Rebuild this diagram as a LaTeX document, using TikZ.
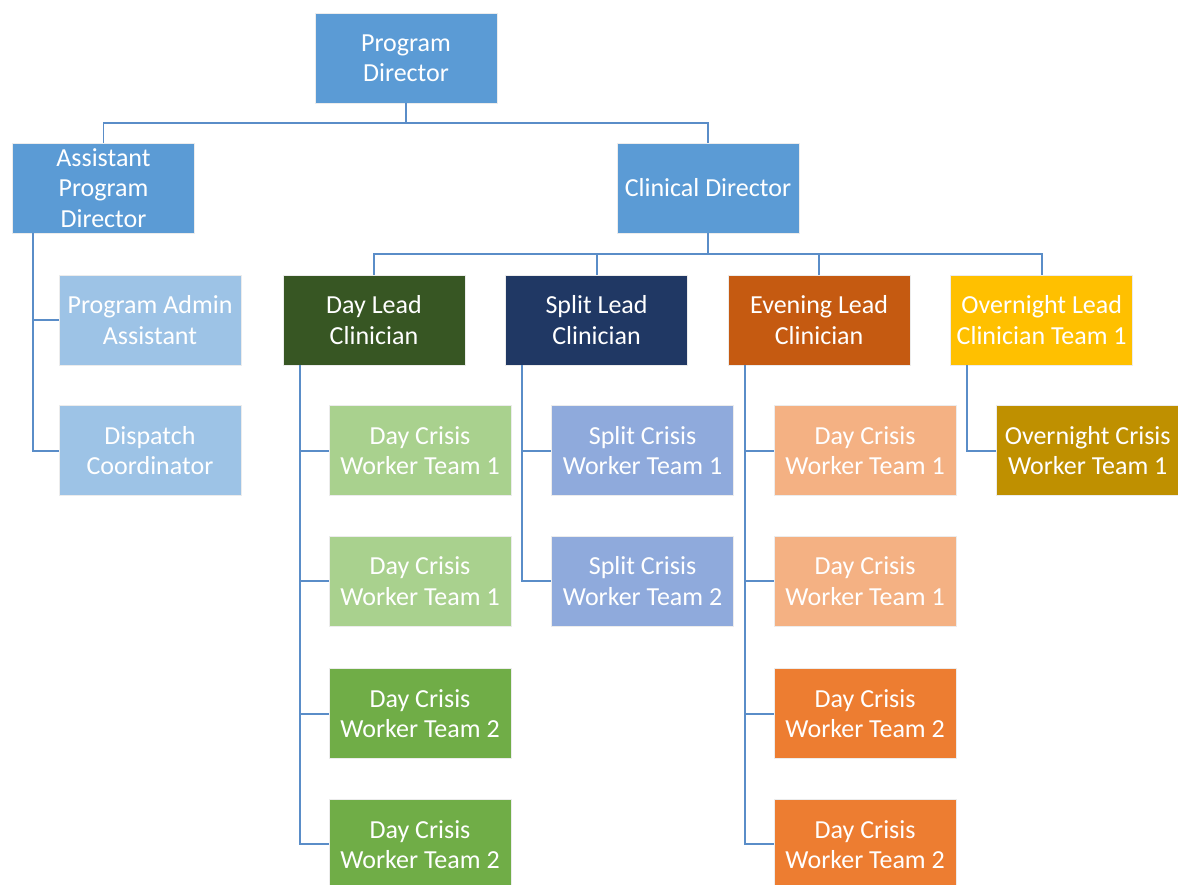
\documentclass[tikz,border=0pt]{standalone}
\usepackage{fontspec}
\setmainfont{Carlito}
\usepackage{xcolor}
\usetikzlibrary{positioning}
\definecolor{TopBlue}{HTML}{5B9BD5}
\definecolor{PaleBlue}{HTML}{9DC3E6}
\definecolor{LinkBlue}{HTML}{5A8DC8}
\definecolor{DayDark}{HTML}{375623}
\definecolor{DayPale}{HTML}{A9D18E}
\definecolor{DayMid}{HTML}{70AD47}
\definecolor{SplitDark}{HTML}{203864}
\definecolor{SplitPale}{HTML}{8FAADC}
\definecolor{EveDark}{HTML}{C55A11}
\definecolor{EvePale}{HTML}{F4B183}
\definecolor{EveMid}{HTML}{ED7D31}
\definecolor{NightLead}{HTML}{FFC000}
\definecolor{NightCrew}{HTML}{BF9000}

\begin{document}
\begin{tikzpicture}[
  node distance=1cm and 1cm,
  unit/.style={draw=white!85!gray,line width=0.4pt,fill=#1,minimum width=4.55cm,minimum height=2.25cm,
    align=center,text=white,font=\fontsize{18.5}{21.5}\selectfont,inner sep=1pt},
  link/.style={draw=LinkBlue,line width=1.4pt}
]
\useasboundingbox (0,0) rectangle (29.45,-22.1);
% top levels
\node[unit=TopBlue] (pd) at (10.15,-1.45) {Program\\Director};
\node[unit=TopBlue] (apd) at (2.5875,-4.7) {Assistant\\Program\\Director};
\node[unit=TopBlue] (cd) at (17.7,-4.7) {Clinical Director};
\draw[link] (pd.south) -- ++(0,-0.5) -| (apd.north);
\draw[link] (pd.south) -- ++(0,-0.5) -| (cd.north);
% assistant branch
\node[unit=PaleBlue] (admin) at (3.75,-8.0) {Program Admin\\Assistant};
\node[unit=PaleBlue,below=of admin] (dispatch) {Dispatch\\Coordinator};
\draw[link] ([xshift=0.525cm]apd.south west) |- (admin.west);
\draw[link] ([xshift=0.525cm]apd.south west) |- (dispatch.west);
% lead clinicians
\node[unit=DayDark] (daylead) at (9.35,-8.0) {Day Lead\\Clinician};
\node[unit=SplitDark,right=of daylead] (splitlead) {Split Lead\\Clinician};
\node[unit=EveDark,right=of splitlead] (evelead) {Evening Lead\\Clinician};
\node[unit=NightLead,right=of evelead] (nightlead) {Overnight Lead\\Clinician Team 1};
\foreach \lead in {daylead,splitlead,evelead,nightlead}
  \draw[link] (cd.south) -- ++(0,-0.525) -| (\lead.north);
% day crews
\node[unit=DayPale,below=of daylead,xshift=1.15cm] (day1) {Day Crisis\\Worker Team 1};
\node[unit=DayPale,below=of day1] (day2) {Day Crisis\\Worker Team 1};
\node[unit=DayMid,below=1.05cm of day2] (day3) {Day Crisis\\Worker Team 2};
\node[unit=DayMid,below=of day3] (day4) {Day Crisis\\Worker Team 2};
% split crews
\node[unit=SplitPale,below=of splitlead,xshift=1.15cm] (split1) {Split Crisis\\Worker Team 1};
\node[unit=SplitPale,below=of split1] (split2) {Split Crisis\\Worker Team 2};
% evening crews
\node[unit=EvePale,below=of evelead,xshift=1.15cm] (eve1) {Day Crisis\\Worker Team 1};
\node[unit=EvePale,below=of eve1] (eve2) {Day Crisis\\Worker Team 1};
\node[unit=EveMid,below=1.05cm of eve2] (eve3) {Day Crisis\\Worker Team 2};
\node[unit=EveMid,below=of eve3] (eve4) {Day Crisis\\Worker Team 2};
% overnight crew
\node[unit=NightCrew,below=of nightlead,xshift=1.15cm] (night1) {Overnight Crisis\\Worker Team 1};
% crew links
\foreach \crew in {day1,day2,day3,day4}
  \draw[link] ([xshift=0.425cm]daylead.south west) |- (\crew.west);
\foreach \crew in {split1,split2}
  \draw[link] ([xshift=0.425cm]splitlead.south west) |- (\crew.west);
\foreach \crew in {eve1,eve2,eve3,eve4}
  \draw[link] ([xshift=0.425cm]evelead.south west) |- (\crew.west);
\draw[link] ([xshift=0.425cm]nightlead.south west) |- (night1.west);
\end{tikzpicture}
\end{document}
